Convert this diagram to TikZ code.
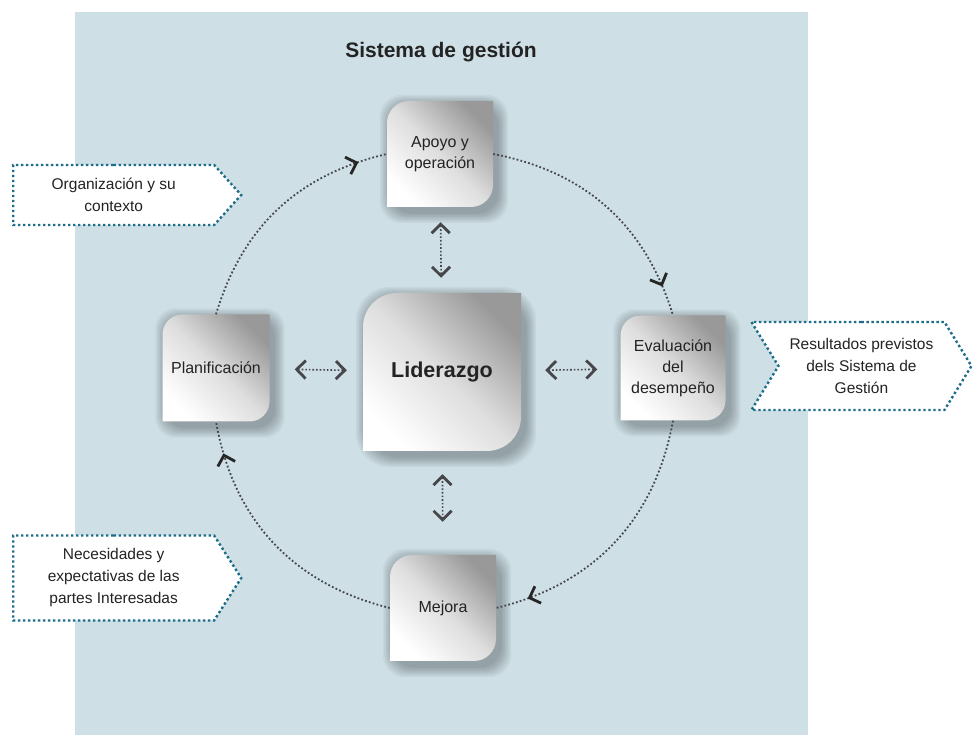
\documentclass[tikz,border=0pt]{standalone}
\usepackage{fontspec}
\setmainfont{Liberation Sans}
\usetikzlibrary{arrows.meta,shapes.symbols,decorations.markings}
\definecolor{panel}{RGB}{206,224,230}
\definecolor{dotline}{RGB}{70,70,75}
\definecolor{tealdot}{RGB}{28,108,138}
\definecolor{ink}{RGB}{35,35,35}
\tikzset{
    title/.style={font=\fontsize{21}{25}\selectfont\bfseries, text=ink},
    tile/.style={rectangle, minimum width=#1, minimum height=#1, inner sep=0pt, align=center, font=\fontsize{16}{21}\selectfont, text=ink},
    tilebody/.style={top color=black!40, bottom color=white, middle color=black!13, shading angle=-45},
    tileshade/.style={black, opacity=0.045},
    side/.style={signal, signal to=east, draw=tealdot, line width=2.4pt, dash pattern=on 2.4pt off 2.6pt, fill=white, align=center, font=\fontsize{15.5}{22}\selectfont, text=ink, inner sep=0pt},
    cyc/.style={dotline, line width=1.8pt, dash pattern=on 1.8pt off 2.2pt, postaction={decorate},
        decoration={markings, mark=at position 0.88 with {\arrow[black!85]{>}}}},
    dbl/.style={<->, dotline, line width=1.6pt, dash pattern=on 1.6pt off 2pt},
}
\begin{document}
\begin{tikzpicture}[x=1pt, y=1pt, >={Straight Barb[length=9pt,width=18pt,line width=2.8pt]}]
    \useasboundingbox (0,0) rectangle (975,735);
    \fill[panel] (75,0) rectangle (808,723);

    \node[title] (ttl) at (441,683) {Sistema de gestión};

    % tiles: name/x/y/size/corner/text
    \foreach \n/\x/\y/\s/\r/\t in {apoyo/440/581/106/22/{Apoyo y\\operación},
            lider/442/363/158/34/{\fontsize{21.5}{25}\selectfont\bfseries Liderazgo},
            plan/216/367/107/20/{Planificación},
            eval/673/367/105/20/{Evaluación\\del\\desempeño},
            mejora/443/127/106/22/{Mejora}} {
        \foreach \k in {1,...,7}
            \fill[tileshade, rounded corners=\r pt] (\x-\s/2+4-\k*1.6,\y-\s/2-5-\k*1.6) rectangle (\x+\s/2+4+\k*1.6,\y+\s/2-5+\k*1.6);
        \path[tilebody] (\x-\s/2,\y-\s/2) -- (\x-\s/2,\y+\s/2-\r) arc[start angle=180, end angle=90, radius=\r pt]
            -- (\x+\s/2,\y+\s/2) -- (\x+\s/2,\y-\s/2+\r) arc[start angle=0, end angle=-90, radius=\r pt] -- cycle;
        \node[tile=\s] (\n) at (\x,\y) {\t};
    }

    \node[side, minimum width=228, minimum height=60, signal pointer angle=96, anchor=west] (org) at (12,540) {Organización y su\\contexto};
    \node[side, minimum width=228, minimum height=85, signal pointer angle=115, anchor=west] (nec) at (12,157) {Necesidades y\\expectativas de las\\partes Interesadas};
    \node[side, signal from=west, minimum width=220, minimum height=88, signal pointer angle=117, anchor=west] (res) at (777,369) {Resultados previstos\\dels Sistema de\\Gestión};

    % cycle round the tiles
    \draw[cyc] (plan.north) to[bend left=30] (apoyo.west);
    \draw[cyc] (apoyo.east) to[bend left=31] (eval.north);
    \draw[cyc] (eval.south) to[bend left=33] (mejora.east);
    \draw[cyc] (mejora.west) to[bend left=33] (plan.south);

    % links to Liderazgo
    \draw[dbl, shorten <=15pt, shorten >=15pt] (apoyo) -- (lider);
    \draw[dbl, shorten <=25pt, shorten >=16pt] (plan) -- (lider);
    \draw[dbl, shorten <=24pt, shorten >=23pt] (lider) -- (eval);
    \draw[dbl, shorten <=23pt, shorten >=33pt] (lider) -- (mejora);
\end{tikzpicture}
\end{document}
